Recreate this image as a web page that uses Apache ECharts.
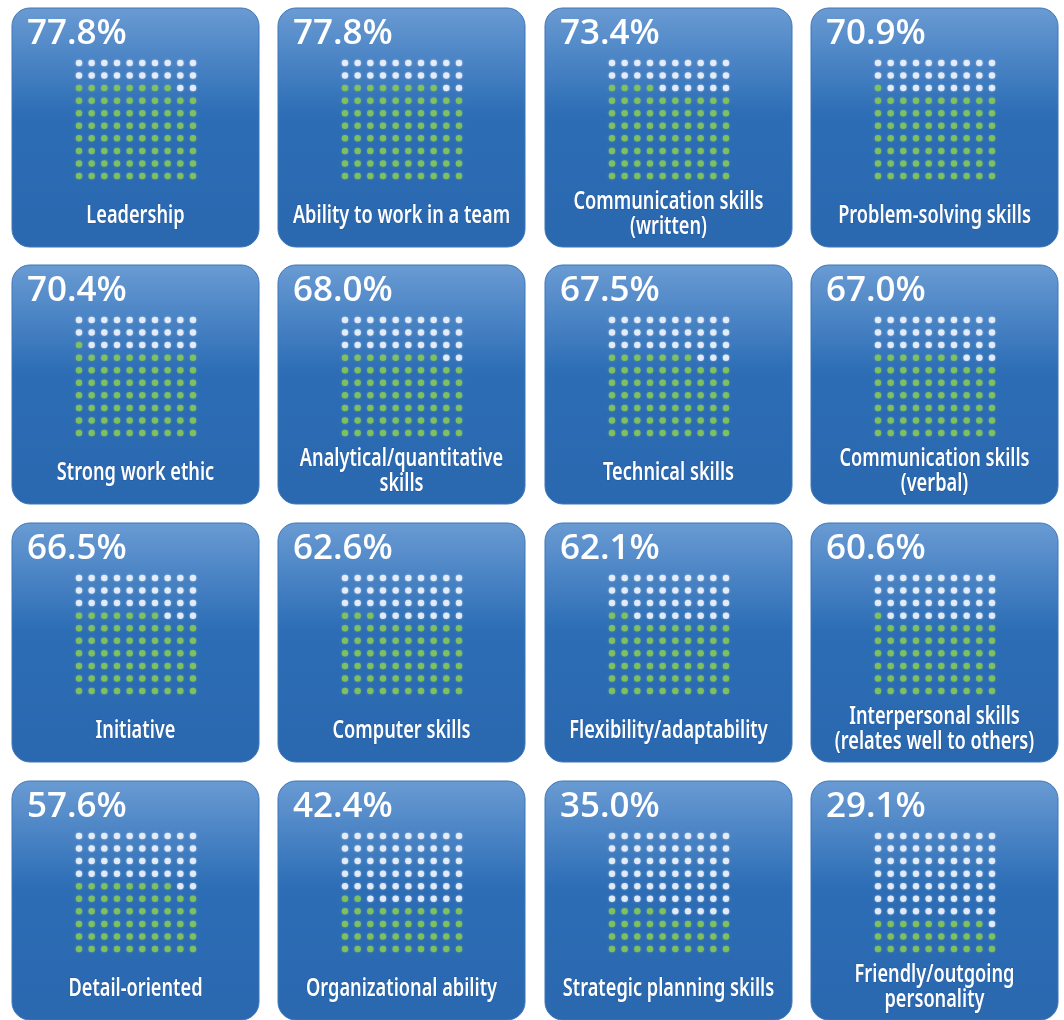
<!DOCTYPE html>
<html>
<head>
<meta charset="utf-8">
<script src="https://cdn.jsdelivr.net/npm/echarts@6/dist/echarts.min.js"></script>
<style>
html,body{margin:0;padding:0;background:#fff;}
#main{width:1064px;height:1020px;}
</style>
</head>
<body>
<div id="main"></div>
<script>
// ---- data ----
var categories = [
  'Leadership', 'Ability to work in a team', 'Communication skills\n(written)', 'Problem-solving skills',
  'Strong work ethic', 'Analytical/quantitative\nskills', 'Technical skills', 'Communication skills\n(verbal)',
  'Initiative', 'Computer skills', 'Flexibility/adaptability', 'Interpersonal skills\n(relates well to others)',
  'Detail-oriented', 'Organizational ability', 'Strategic planning skills', 'Friendly/outgoing\npersonality'
];
var percentages = [77.8, 77.8, 73.4, 70.9, 70.4, 68.0, 67.5, 67.0, 66.5, 62.6, 62.1, 60.6, 57.6, 42.4, 35.0, 29.1];
// number of green dots shown in each 10x10 grid (as drawn in the reference)
var greenDots = [78, 78, 74, 71, 71, 68, 67, 67, 67, 63, 62, 61, 58, 42, 35, 29];
var gridSize = 10;

// ---- layout ----
var colLefts = [12, 278, 545, 811];
var rowTops = [8, 265, 523, 781];
var tileW = 247, tileH = 239;

var chart = echarts.init(document.getElementById('main'), null, {renderer: 'canvas'});

var grids = [], xAxes = [], yAxes = [], series = [], graphics = [];

categories.forEach(function (cat, i) {
  var c = i % 4, r = Math.floor(i / 4);
  var L = colLefts[c], T = rowTops[r];

  graphics.push({
    type: 'rect', z: 0,
    shape: {x: L, y: T, width: tileW, height: tileH, r: 18},
    style: {
      fill: new echarts.graphic.LinearGradient(0, 0, 0, 1, [
        {offset: 0, color: '#6a9bd3'},
        {offset: 0.2, color: '#4d86c6'},
        {offset: 0.45, color: '#2c6db5'},
        {offset: 1, color: '#2a68af'}
      ]),
      stroke: '#3f77b8', lineWidth: 1
    }
  });
  graphics.push({
    type: 'text', z: 10,
    x: L + 15, y: T + 26,
    style: {
      text: percentages[i].toFixed(1) + '%',
      fill: '#ffffff',
      font: '600 35px "Open Sans", "Noto Sans", sans-serif',
      textVerticalAlign: 'middle'
    }
  });
  var twoLine = cat.indexOf('\n') >= 0;
  graphics.push({
    type: 'text', z: 10,
    x: L + tileW / 2, y: T + (twoLine ? 206 : 208),
    scaleX: 0.7,
    style: {
      text: cat,
      fill: '#ffffff',
      font: '600 26px "Noto Sans", "Open Sans", sans-serif',
      textAlign: 'center',
      textVerticalAlign: 'middle',
      lineHeight: 25,
      stroke: 'rgba(20,60,120,0.35)', lineWidth: 1
    }
  });

  grids.push({left: L + 67, top: T + 55, width: 114, height: 113});
  xAxes.push({gridIndex: i, type: 'value', min: 0, max: gridSize - 1, show: false});
  yAxes.push({gridIndex: i, type: 'value', min: 0, max: gridSize - 1, show: false});

  var green = [], white = [];
  for (var k = 0; k < gridSize * gridSize; k++) {
    var pt = [k % gridSize, Math.floor(k / gridSize)];
    if (k < greenDots[i]) green.push(pt); else white.push(pt);
  }
  series.push({
    type: 'scatter', xAxisIndex: i, yAxisIndex: i, data: green,
    symbol: 'circle', symbolSize: 6.5, silent: true, z: 5,
    itemStyle: {color: '#8ac955', shadowBlur: 2, shadowColor: 'rgba(140,210,90,0.6)'}
  });
  series.push({
    type: 'scatter', xAxisIndex: i, yAxisIndex: i, data: white,
    symbol: 'circle', symbolSize: 6.5, silent: true, z: 5,
    itemStyle: {color: '#f6f9ff', shadowBlur: 2, shadowColor: 'rgba(255,255,255,0.6)'}
  });
});

chart.setOption({
  backgroundColor: '#ffffff',
  animation: false,
  grid: grids,
  xAxis: xAxes,
  yAxis: yAxes,
  series: series,
  graphic: graphics
});
</script>
</body>
</html>
